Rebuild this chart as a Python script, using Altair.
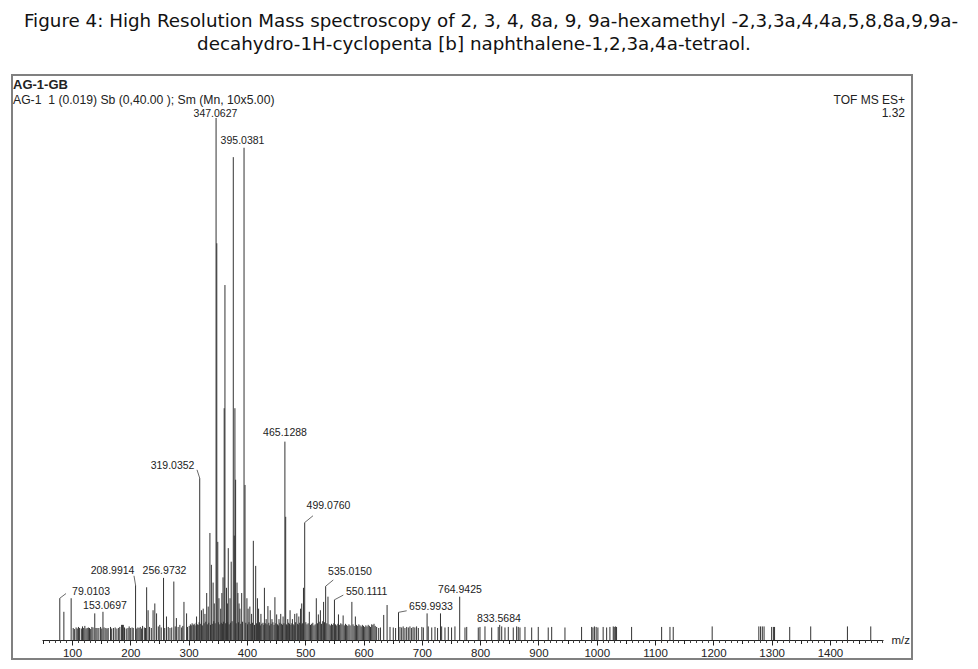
import altair as alt
import pandas as pd

# ---------------- text ----------------
caption = [
    "Figure 4: High Resolution Mass spectroscopy of 2, 3, 4, 8a, 9, 9a-hexamethyl -2,3,3a,4,4a,5,8,8a,9,9a-",
    "decahydro-1H-cyclopenta [b] naphthalene-1,2,3a,4a-tetraol.",
]
sample_name = "AG-1-GB"
scan_info = "AG-1\u00a0 1 (0.019) Sb (0,40.00 ); Sm (Mn, 10x5.00)"
instrument = "TOF MS ES+"
base_intensity = "1.32"

# ---------------- spectrum: main peaks (m/z, relative intensity %) ----------------
peaks = [
    (79.01, 8.0), (86, 5.4), (98.5, 8.0), (139, 5.1), (153.07, 5.4), (185, 2.9), (186.5, 2.9), (188, 2.9),
    (208.99, 10.5), (221, 2.7), (228, 10.1), (230.5, 5.7), (239, 5.7), (242, 7.0), (245, 5.1), (250.5, 2.9),
    (256.97, 11.9), (262, 4.5), (274.6, 11.2), (279, 4.2), (285, 2.9), (292, 7.3), (296.5, 5.1), (313.6, 4.5),
    (319.04, 31.0), (322, 5.7), (325, 6.0), (328, 5.0), (331, 9.0), (333.6, 6.4), (336.5, 20.5), (339, 14.4),
    (342, 11.0), (344, 7.0), (347.06, 100.0), (348.3, 76.0), (350, 18.8), (352, 8.0), (355, 6.0), (357, 9.0),
    (359, 12.0), (361, 44.4), (362.3, 68.0), (365, 10.0), (366.5, 7.0), (368, 17.6), (371, 8.0), (373, 15.0),
    (376.6, 92.5), (378.3, 20.0), (379.4, 44.4), (380.6, 30.7), (383, 11.0), (384.5, 9.0), (386.5, 7.0),
    (388, 6.0), (391, 9.0), (395.04, 94.3), (396.7, 29.7), (400, 8.0), (402, 6.0), (405, 6.4), (408, 5.0),
    (411, 19.0), (415, 14.2), (418, 8.0), (420, 6.0), (424, 5.0), (430, 10.0), (433, 4.0), (436, 6.5),
    (440, 5.7), (443, 4.0), (448, 8.2), (451, 4.9), (455, 4.0), (458, 5.0), (462, 4.5), (465.13, 38.0),
    (466.5, 23.6), (470, 4.0), (474, 5.7), (478, 4.0), (482, 5.0), (485.6, 5.1), (489, 4.5), (492, 6.0),
    (494, 7.0), (497, 10.0), (499.08, 22.5), (507, 5.4), (519, 8.0), (522.5, 4.9), (526, 5.7), (531.5, 7.3),
    (535.02, 10.3), (539, 8.3), (550.11, 7.7), (557, 4.9), (565, 4.7), (580, 7.3), (586, 4.5), (634.6, 4.8),
    (640.4, 6.7), (659.99, 5.3), (709, 5.1), (732, 5.1), (764.94, 8.3), (833.57, 2.9),
]

# ---------------- spectrum: low-level lines ----------------
grass_low = [
    (102, 2.3), (104, 2.1), (107, 2.4), (109, 2.2), (111, 2.5), (113, 2.3), (116, 2.2), (118, 2.6), (120, 2.3),
    (122, 2.7), (124, 2.2), (126, 2.3), (128, 2.4), (130, 2.3), (132, 2.1), (134, 2.5), (136, 2.4), (141, 2.3),
    (143, 2.3), (146, 2.3), (149, 2.5), (151, 2.2), (155, 2.4), (158, 2.3), (160, 2.2), (162, 2.3), (166, 2.5),
    (168, 2.2), (171, 2.3), (174, 2.4), (177, 2.2), (180, 2.3), (182, 2.5), (190, 2.4), (193, 2.2), (196, 2.3),
    (198, 2.6), (200, 2.3), (203, 2.4), (205, 2.3), (211, 2.2), (213, 2.4), (215, 2.3), (217, 2.5), (219, 2.2),
    (224, 2.4), (226, 2.3), (233, 2.5), (236, 2.3), (248, 2.6), (253, 2.4), (259, 2.3), (265, 2.5), (268, 2.3),
    (271, 2.4), (277, 2.6), (282, 2.5), (288, 2.4), (290, 2.7), (298, 2.5),
]
grass_band = [
    (301, 2.7), (303, 3.0), (304.5, 2.8), (306, 3.2), (308, 2.9), (309.5, 3.1), (311, 2.8), (313, 3.3),
    (315, 3.0), (316.5, 2.9), (318, 3.4), (320, 3.1), (323.5, 2.8), (326.5, 3.2), (329.5, 3.5), (332, 3.0),
    (334.5, 3.3), (337.5, 2.9), (340.5, 3.1), (343, 3.6), (345.5, 3.2), (351, 3.4), (353.5, 3.0), (356, 3.3),
    (358, 3.1), (360, 3.5), (363.5, 3.2), (367, 3.4), (369.5, 3.0), (372, 3.3), (374.5, 3.6), (381.5, 3.2),
    (385.5, 3.4), (389.5, 3.1), (392.5, 3.5), (398, 3.3), (401, 3.0), (403.5, 3.4), (406.5, 3.1), (409.5, 3.3),
    (413, 2.9), (416.5, 3.2), (419, 3.0), (421.5, 3.4), (423, 2.8), (425.5, 3.1), (427.5, 3.3), (429, 2.9),
    (431.5, 3.2), (434.5, 3.0), (437.5, 3.3), (439, 2.8), (441.5, 3.1), (444.5, 3.4), (446.5, 2.9),
    (449.5, 3.2), (452.5, 3.0), (454, 2.8), (456.5, 3.3), (459.5, 3.1), (461, 2.9), (463.5, 3.2), (468, 3.0),
    (469, 2.8), (471.5, 3.3), (473, 3.1), (475.5, 2.9), (477, 3.2), (479.5, 3.0), (481, 2.8), (483.5, 3.4),
    (487, 3.1), (488, 2.9), (490.5, 3.3), (493, 3.0), (495.5, 3.2), (501, 3.4), (503, 3.0), (505, 3.2),
    (509, 2.9), (511, 3.1), (513, 3.3), (515, 2.8), (517, 3.0), (521, 3.2), (524, 3.5), (528, 3.1),
    (530, 3.6), (533, 3.4), (537, 3.2), (541, 3.0), (543, 2.8), (545, 3.1), (547, 2.9), (549, 3.2),
    (552, 3.0), (554, 2.8), (556, 3.1), (559, 2.9), (561, 3.2), (563, 3.0), (567, 2.8), (569, 3.1),
    (571, 2.9), (573, 2.7), (575, 3.0), (577, 2.8), (582, 3.0), (584, 2.7), (588, 2.9), (590, 2.7),
    (592, 3.0), (594, 2.8), (596, 2.6), (598, 2.9), (600, 2.7), (602, 2.5), (604, 2.8), (606, 2.6),
    (608, 2.9), (610, 2.7), (612, 2.5), (614, 3.0), (616, 2.9), (618, 3.1), (620, 2.7),
]
grass_high = [
    (622.5, 2.5), (626, 2.3), (629, 2.4), (645.4, 2.5), (651, 2.4), (655, 2.3), (662.5, 2.5), (665.4, 2.4),
    (668, 2.6), (671, 2.3), (674, 2.5), (676.8, 2.4), (679.6, 2.6), (682.5, 2.3), (685, 2.5), (688, 2.4),
    (691, 2.6), (694, 2.3), (700, 2.5), (702.6, 2.4), (711, 2.6), (717, 2.4), (722.6, 2.5), (727, 2.3),
    (734, 2.6), (739.7, 2.4), (745.4, 2.5), (751, 2.4), (756.8, 2.6), (774, 2.4), (777, 2.5), (796.8, 2.4),
    (799.7, 2.5), (808.3, 2.6), (819.8, 2.4), (831, 2.5), (837, 2.6), (842.6, 2.4), (848.3, 2.5),
    (856.8, 2.4), (862.6, 2.6), (865.4, 2.5), (868.3, 2.4), (876.9, 2.5), (888.4, 2.4), (899.7, 2.5),
    (916.8, 2.4), (922.7, 2.5), (945.5, 2.4), (974, 2.5), (991.3, 2.5), (993.5, 2.4), (996, 2.6),
    (999, 2.5), (1002, 2.4), (1011, 2.5), (1017, 2.4), (1022.6, 2.5), (1028.3, 2.6), (1030, 2.5),
    (1032, 2.6), (1034, 2.5), (1059.8, 2.5), (1111.3, 2.5), (1125.6, 2.5), (1131.2, 2.5), (1198, 2.6),
    (1278, 2.6), (1281, 2.6), (1284, 2.6), (1287, 2.6), (1300, 2.5), (1303, 2.5), (1305, 2.5), (1331, 2.5),
    (1367, 2.6), (1430, 2.6), (1470, 2.6),
]

# ---------------- peak annotations ----------------
label_text = ["79.0103", "153.0697", "208.9914", "256.9732", "319.0352", "347.0627", "395.0381",
              "465.1288", "499.0760", "535.0150", "550.1111", "659.9933", "764.9425", "833.5684"]
label_mz = [132.6, 156.5, 169.5, 258.6, 272.4, 346.0, 392.4, 465.3, 539.9, 576.8, 605.4, 715.7, 765.4, 832.3]
label_pct = [9.2, 6.6, 13.2, 13.3, 33.3, 100.7, 95.6, 39.6, 25.6, 13.0, 9.2, 6.3, 9.6, 4.0]

# leader lines: from label corner to peak apex (m/z, %)
leader_from_mz = [89.7, 206.3, 314.4, 513.3, 548.1, 565.3, 674.0]
leader_from_pct = [8.9, 12.3, 32.6, 23.8, 11.5, 8.6, 5.6]
leader_to_mz = [79.01, 208.99, 319.04, 499.08, 535.02, 550.11, 659.99]
leader_to_pct = [8.0, 10.5, 31.0, 22.5, 10.3, 7.7, 5.3]

major_ticks = list(range(100, 1401, 100))
mid_ticks = list(range(50, 1491, 100))
minor_ticks = [v for v in range(50, 1491, 10) if v % 50 != 0]
y_ticks = [0, 50, 100]

# ---------------- chart ----------------
W, H = 841, 522
FONT = "Liberation Sans"
INK = "#222222"

x_scale = alt.Scale(domain=[48.5, 1491], nice=False, zero=False)
y_scale = alt.Scale(domain=[0, 100], nice=False)

spec_rows = peaks + grass_low + grass_band + grass_high
spec_df = pd.DataFrame({"mz": [p[0] for p in spec_rows], "pct": [p[1] for p in spec_rows]})
label_df = pd.DataFrame({"label": label_text, "lx": label_mz, "ly": label_pct})
leader_df = pd.DataFrame({"x0": leader_from_mz, "y0": leader_from_pct, "x1": leader_to_mz, "y1": leader_to_pct})

major_axis = alt.Axis(
    orient="bottom", values=major_ticks, format="d", tickSize=5, tickColor=INK, tickWidth=1,
    domainColor=INK, domainWidth=1, labelColor=INK, labelFont=FONT, labelFontSize=11.5,
    labelPadding=2, grid=False, title="m/z", titleFont=FONT, titleFontSize=11.5,
    titleFontWeight="normal", titleColor=INK, titleX=849, titleY=0, titleAlign="left",
    titleBaseline="middle",
)
mid_axis = alt.Axis(orient="bottom", values=mid_ticks, tickSize=3.5, tickColor=INK, labels=False,
                    domain=False, grid=False, title="")
minor_axis = alt.Axis(orient="bottom", values=minor_ticks, tickSize=2.5, tickColor="#444444",
                      labels=False, domain=False, grid=False, title="")
y_axis = alt.Axis(
    orient="left", values=y_ticks, labelExpr="datum.value == 50 ? '%' : datum.label",
    tickSize=5, tickColor=INK, domainColor=INK, labelColor=INK, labelFont=FONT,
    labelFontSize=11.5, labelPadding=2, grid=False, title="",
)

spectrum = alt.Chart(spec_df).mark_rule(color="#333333", strokeWidth=1).encode(
    x=alt.X("mz:Q", scale=x_scale, axis=major_axis),
    y=alt.Y("pct:Q", scale=y_scale, axis=y_axis),
    y2=alt.datum(0),
)

labels = alt.Chart(label_df).mark_text(
    align="center", baseline="middle", font=FONT, fontSize=10.5, color=INK
).encode(
    x=alt.X("lx:Q", scale=x_scale, axis=mid_axis),
    y=alt.Y("ly:Q", scale=y_scale, axis=None),
    text="label:N",
)

leaders = alt.Chart(leader_df).mark_rule(color="#444444", strokeWidth=0.8).encode(
    x=alt.X("x0:Q", scale=x_scale, axis=minor_axis),
    y=alt.Y("y0:Q", scale=y_scale, axis=None),
    x2="x1:Q",
    y2="y1:Q",
)

frame = alt.Chart(pd.DataFrame({"frame": [1]})).mark_rect(
    fillOpacity=0, stroke="#808080", strokeWidth=2
).encode(x=alt.value(-30), x2=alt.value(870), y=alt.value(-43), y2=alt.value(541))


def text_layer(txt, x, y, size, align="left", weight="normal", font=FONT, color=INK):
    return alt.Chart(pd.DataFrame({"t": [txt]})).mark_text(
        align=align, baseline="middle", fontSize=size, font=font, fontWeight=weight, color=color
    ).encode(text="t:N", x=alt.value(x), y=alt.value(y))


texts = [
    text_layer(caption[0], 449, -96, 18.3, align="center", font="DejaVu Sans", color="#111111"),
    text_layer(caption[1], 432, -73, 18.3, align="center", font="DejaVu Sans", color="#111111"),
    text_layer(sample_name, -29, -33, 13, weight="bold"),
    text_layer(scan_info, -29, -18.5, 12.2),
    text_layer(instrument, 863, -18, 12, align="right"),
    text_layer(base_intensity, 863, -5, 12, align="right"),
]

chart = alt.layer(frame, spectrum, leaders, labels, *texts).resolve_axis(
    x="independent"
).properties(
    width=W, height=H,
    padding={"left": 34, "top": 110, "right": 87, "bottom": 20},
    autosize=alt.AutoSizeParams(type="none"),
    background="white",
).configure_view(stroke="transparent")

chart.save("out.html", embed_options={"renderer": "svg", "actions": False})
